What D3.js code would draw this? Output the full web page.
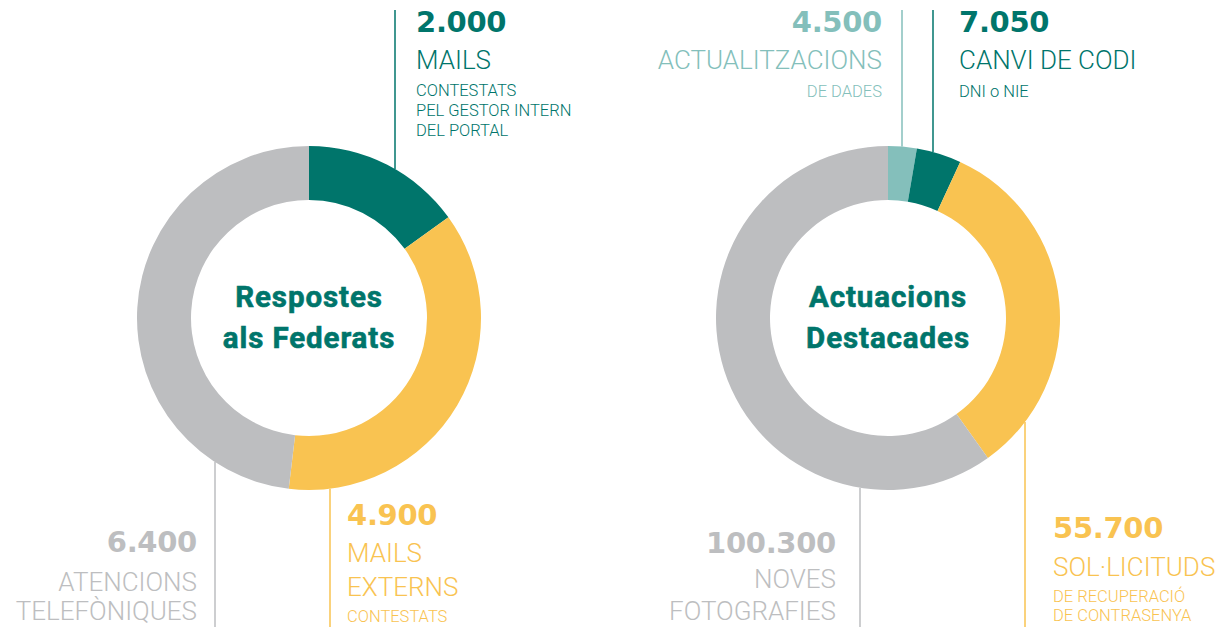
<!DOCTYPE html>
<html>
<head>
<meta charset="utf-8">
<script src="https://cdn.jsdelivr.net/npm/d3@7"></script>
<style>
  body { margin: 0; background: #fff; }
  svg text { font-family: Roboto, "Open Sans", sans-serif; }
  .num { font-family: "DejaVu Sans", sans-serif; font-weight: 700; }
  .lbl { font-weight: 300; }
  .title { font-weight: 700; }
</style>
</head>
<body>
<svg id="vis-svg"></svg>
<script>
(() => {
  const width = 1225;
  const height = 627;

  // Data
  const leftTitle = ["Respostes", "als Federats"];
  const leftValues = [2000, 4900, 6400];
  const leftNumbers = ["2.000", "4.900", "6.400"];
  const leftLabels = [["MAILS"], ["MAILS", "EXTERNS"], ["ATENCIONS", "TELEFÒNIQUES"]];
  const leftSubs = [["CONTESTATS", "PEL GESTOR INTERN", "DEL PORTAL"], ["CONTESTATS"], []];
  const leftColors = ["#00756b", "#f9c351", "#bdbec0"];

  const rightTitle = ["Actuacions", "Destacades"];
  const rightValues = [4500, 7050, 55700, 100300];
  const rightNumbers = ["4.500", "7.050", "55.700", "100.300"];
  const rightLabels = [["ACTUALITZACIONS"], ["CANVI DE CODI"], ["SOL·LICITUDS"], ["NOVES", "FOTOGRAFIES"]];
  const rightSubs = [["DE DADES"], ["DNI o NIE"], ["DE RECUPERACIÓ", "DE CONTRASENYA"], []];
  const rightColors = ["#84bfbb", "#00756b", "#f9c351", "#bdbec0"];

  // Label layout: leader x, text x, anchor, top or bottom placement
  const leftLayout = [
    { lx: 395, tx: 416, anchor: "start", top: true, numY: 32, lineY: [69], subY: [96, 116, 136] },
    { lx: 330, tx: 347, anchor: "start", top: false, numY: 525, lineY: [562, 596], subY: [622] },
    { lx: 215, tx: 197, anchor: "end", top: false, numY: 552, lineY: [591, 620], subY: [] }
  ];
  const rightLayout = [
    { lx: 902, tx: 882, anchor: "end", top: true, numY: 32, lineY: [69], subY: [97] },
    { lx: 933, tx: 959, anchor: "start", top: true, numY: 32, lineY: [69], subY: [97] },
    { lx: 1025, tx: 1053, anchor: "start", top: false, numY: 538, lineY: [576], subY: [602, 621] },
    { lx: 860, tx: 836, anchor: "end", top: false, numY: 553, lineY: [588, 620], subY: [] }
  ];

  const outerR = 172;
  const innerR = 118;

  const svg = d3.select("#vis-svg")
    .attr("width", width)
    .attr("height", height);

  function drawDonut(cx, cy, values, colors, numbers, labels, subs, layout, title) {
    const pie = d3.pie().sort(null).value(d => d);
    const arc = d3.arc().innerRadius(innerR).outerRadius(outerR);

    const g = svg.append("g").attr("transform", `translate(${cx},${cy})`);

    g.selectAll("path")
      .data(pie(values))
      .enter()
      .append("path")
      .attr("d", arc)
      .attr("fill", (d, i) => colors[i]);

    // Centre title
    g.selectAll(".title")
      .data(title)
      .enter()
      .append("text")
      .attr("class", "title")
      .attr("x", 0)
      .attr("y", (d, i) => -11 + i * 41)
      .attr("text-anchor", "middle")
      .attr("fill", "#00756b")
      .attr("stroke", "#00756b")
      .attr("stroke-width", 0.6)
      .style("font-size", "29.5px")
      .style("letter-spacing", "0.9px")
      .text(d => d);

    // Leaders and labels
    layout.forEach((l, i) => {
      const dx = l.lx - cx;
      const dy = Math.sqrt(outerR * outerR - dx * dx);
      const y1 = l.top ? 10 : cy + dy;
      const y2 = l.top ? cy - dy : height;
      svg.append("line")
        .attr("x1", l.lx).attr("x2", l.lx)
        .attr("y1", y1).attr("y2", y2)
        .attr("stroke", colors[i])
        .attr("stroke-width", 1.5);

      svg.append("text")
        .attr("class", "num")
        .attr("x", l.tx)
        .attr("y", l.numY)
        .attr("text-anchor", l.anchor)
        .attr("fill", colors[i])
        .style("font-size", "29px")
        .style("letter-spacing", "-0.3px")
        .text(numbers[i]);

      labels[i].forEach((t, j) => {
        svg.append("text")
          .attr("class", "lbl")
          .attr("x", l.tx)
          .attr("y", l.lineY[j])
          .attr("text-anchor", l.anchor)
          .attr("fill", colors[i])
          .style("font-size", "26px")
          .text(t);
      });

      subs[i].forEach((t, j) => {
        svg.append("text")
          .attr("class", "lbl")
          .attr("x", l.tx)
          .attr("y", l.subY[j])
          .attr("text-anchor", l.anchor)
          .attr("fill", colors[i])
          .style("font-size", "16.5px")
          .text(t);
      });
    });
  }

  drawDonut(309, 318, leftValues, leftColors, leftNumbers, leftLabels, leftSubs, leftLayout, leftTitle);
  drawDonut(888, 318, rightValues, rightColors, rightNumbers, rightLabels, rightSubs, rightLayout, rightTitle);
})();
</script>
</body>
</html>
